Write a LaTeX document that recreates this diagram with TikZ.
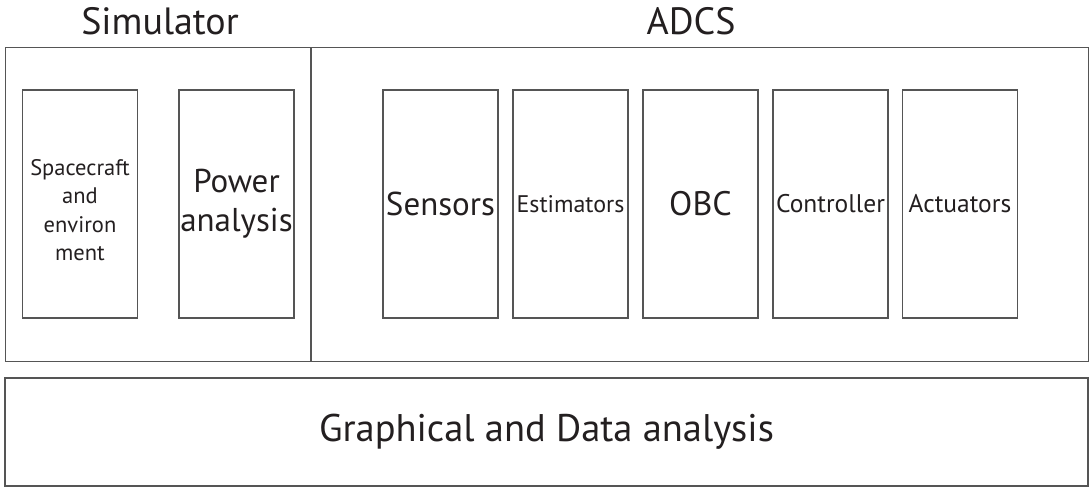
\documentclass[tikz,border=0pt]{standalone}
\usepackage{fontspec}
\setmainfont{PT Sans}
\definecolor{edge}{HTML}{555555}
\definecolor{ink}{HTML}{231F20}
\tikzset{
  panel/.style={draw=edge, line width=1.3pt, inner sep=0pt, text=ink},
  unit/.style={panel, minimum width=115pt, minimum height=228pt, align=center},
  caption/.style={text=ink, inner sep=0pt, align=center},
  heading/.style={caption, font=\fontsize{38}{42}\selectfont}
}
\begin{document}
\begin{tikzpicture}[x=1pt, y=-1pt]
\useasboundingbox (0,0) rectangle (1091,488);

% titles
\node[heading] (simt) at (160,21) {Simulator};
\node[heading] (adcst) at (691,21) {ADCS};

% outer frame with its divider
\node[panel, anchor=north west, minimum width=1083pt, minimum height=314pt] (frame) at (5,47) {};
\coordinate (div) at (311,0);
\draw[edge, line width=1.3pt] (frame.north west -| div) -- (frame.south west -| div);

% simulator units
\node[unit] (sc) at (80,204) {};
\node[caption, font=\fontsize{22.5}{28.5}\selectfont] (sctext) at (80,210) {Spacecraft\\and\\environ\\ment};
\node[unit, font=\fontsize{33}{39}\selectfont] (pw) at (236.5,204) {Power\\analysis};

% ADCS units
\node[unit, font=\fontsize{33}{38}\selectfont] (sen) at (440.5,204) {Sensors};
\node[unit, font=\fontsize{24}{28}\selectfont] (est) at (570.5,204) {Estimators};
\node[unit, font=\fontsize{34}{38}\selectfont] (obc) at (700.5,204) {OBC};
\node[unit, font=\fontsize{25.5}{30}\selectfont] (ctl) at (830.5,204) {Controller};
\node[unit, font=\fontsize{25.5}{30}\selectfont] (act) at (960,204) {Actuators};

% analysis bar
\node[panel, minimum width=1083pt, minimum height=108pt, font=\fontsize{38.5}{44}\selectfont] (gda) at (546.5,432) {Graphical and Data analysis};
\end{tikzpicture}
\end{document}
